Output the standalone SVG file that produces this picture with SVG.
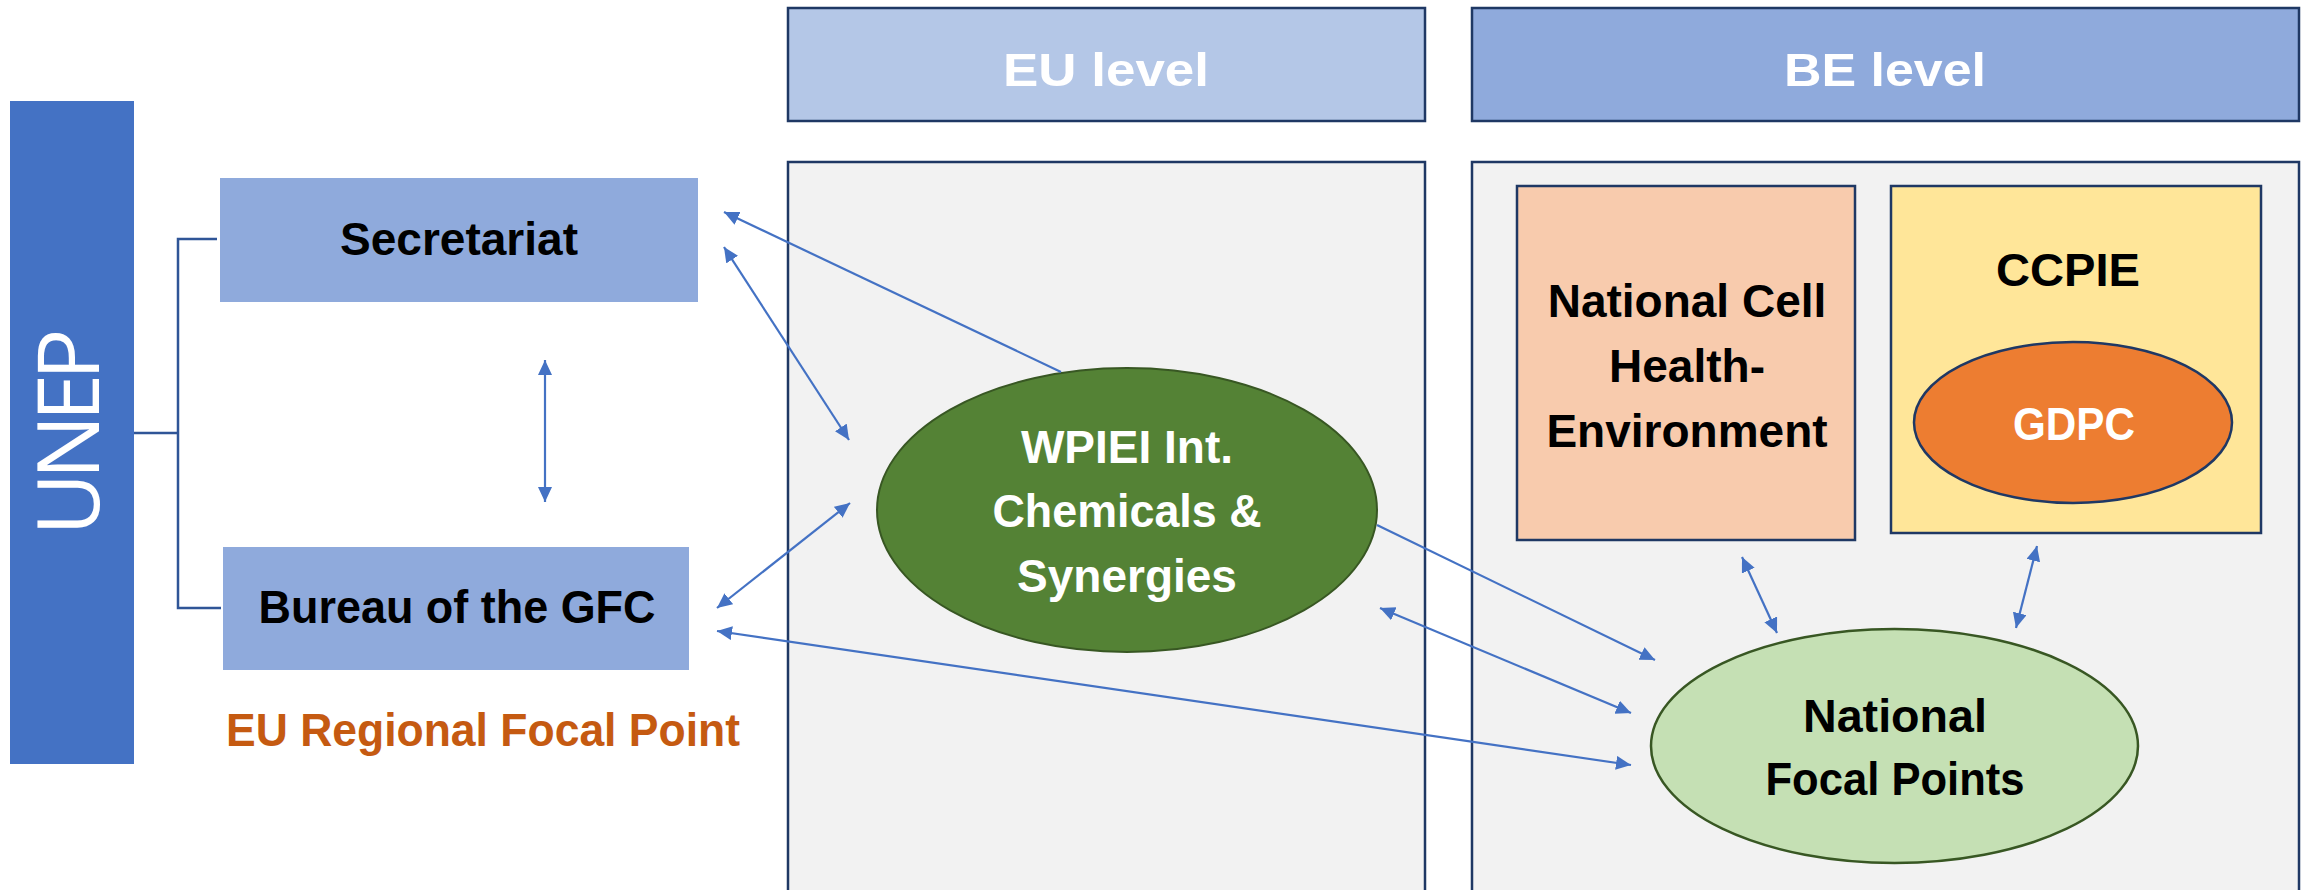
<svg xmlns="http://www.w3.org/2000/svg" width="2310" height="890" viewBox="0 0 2310 890">
<style>
.lbl{font-family:"Liberation Sans",Arial,sans-serif;font-weight:bold;font-size:46px;text-anchor:middle;fill:#000}
.wht{fill:#fff}
.hdr{stroke:#1F3864;stroke-width:2.5}
.conn{stroke:#4472C4;stroke-width:2.2;fill:none}
</style>
<defs>
<marker id="ah" markerUnits="userSpaceOnUse" markerWidth="16" markerHeight="15" refX="15" refY="7" orient="auto-start-reverse">
<path d="M0,0 L15,7 L0,14 z" fill="#4472C4"/>
</marker>
</defs>
<rect width="2310" height="890" fill="#fff"/>

<g id="unep">
<rect x="10" y="101" width="124" height="663" fill="#4472C4"/>
<text transform="translate(99,432) rotate(-90)" font-family="'Open Sans','Liberation Sans',sans-serif" font-weight="normal" font-size="86" fill="#fff" text-anchor="middle" textLength="207" lengthAdjust="spacing">UNEP</text>
</g>

<g id="eu-header">
<rect class="hdr" x="788" y="8" width="637" height="113" fill="#B4C7E7"/>
<text class="lbl wht" x="1106" y="86" font-size="60" textLength="206" lengthAdjust="spacingAndGlyphs">EU level</text>
</g>
<g id="be-header">
<rect class="hdr" x="1472" y="8" width="827" height="113" fill="#8FAADC"/>
<text class="lbl wht" x="1885" y="86" font-size="60" textLength="202" lengthAdjust="spacingAndGlyphs">BE level</text>
</g>
<g id="eu-panel">
<rect class="hdr" x="788" y="162" width="637" height="740" fill="#F2F2F2"/>
</g>
<g id="be-panel">
<rect class="hdr" x="1472" y="162" width="827" height="740" fill="#F2F2F2"/>
</g>

<g id="secretariat">
<rect x="220" y="178" width="478" height="124" fill="#8FAADC"/>
<text class="lbl" x="459" y="255" textLength="238" lengthAdjust="spacingAndGlyphs">Secretariat</text>
</g>
<g id="bureau">
<rect x="223" y="547" width="466" height="123" fill="#8FAADC"/>
<text class="lbl" x="457" y="623" textLength="397" lengthAdjust="spacingAndGlyphs">Bureau of the GFC</text>
</g>
<g id="eu-rfp">
<text class="lbl" x="483" y="746" style="fill:#C55A11" textLength="514" lengthAdjust="spacingAndGlyphs">EU Regional Focal Point</text>
</g>

<g id="wpiei">
<ellipse cx="1127" cy="510" rx="250" ry="142" fill="#548235" stroke="#385723" stroke-width="2"/>
<text class="lbl wht" x="1127" y="463">WPIEI Int.</text>
<text class="lbl wht" x="1127" y="527" textLength="269" lengthAdjust="spacingAndGlyphs">Chemicals &amp;</text>
<text class="lbl wht" x="1127" y="592">Synergies</text>
</g>

<g id="national-cell">
<rect x="1517" y="186" width="338" height="354" fill="#F8CBAD" stroke="#1F3864" stroke-width="2.5"/>
<text class="lbl" x="1687" y="317">National Cell</text>
<text class="lbl" x="1687" y="382">Health-</text>
<text class="lbl" x="1687" y="447">Environment</text>
</g>

<g id="ccpie">
<rect x="1891" y="186" width="370" height="347" fill="#FFE699" stroke="#1F3864" stroke-width="2.5"/>
<text class="lbl" x="2068" y="286" font-size="55" textLength="144" lengthAdjust="spacingAndGlyphs">CCPIE</text>
</g>
<g id="gdpc">
<ellipse cx="2073" cy="422.5" rx="159" ry="80.5" fill="#ED7D31" stroke="#1F3864" stroke-width="2.5"/>
<text class="lbl wht" x="2074" y="440" font-size="45" textLength="122" lengthAdjust="spacingAndGlyphs">GDPC</text>
</g>

<g id="nfp">
<ellipse cx="1894.5" cy="746" rx="243.5" ry="117" fill="#C5E0B4" stroke="#385723" stroke-width="2.5"/>
<text class="lbl" x="1895" y="732" textLength="184" lengthAdjust="spacingAndGlyphs">National</text>
<text class="lbl" x="1895" y="795" textLength="259" lengthAdjust="spacingAndGlyphs">Focal Points</text>
</g>

<g id="connectors">
<path d="M134,433 H178 M217,239 H178 V608 H221" stroke="#2F5597" stroke-width="2.5" fill="none"/>
<line class="conn" x1="545" y1="360" x2="545" y2="502" marker-start="url(#ah)" marker-end="url(#ah)"/>
<line class="conn" x1="1061" y1="372" x2="724" y2="212" marker-end="url(#ah)"/>
<line class="conn" x1="724" y1="247" x2="849" y2="440" marker-start="url(#ah)" marker-end="url(#ah)"/>
<line class="conn" x1="717" y1="608" x2="850" y2="503" marker-start="url(#ah)" marker-end="url(#ah)"/>
<line class="conn" x1="717" y1="631" x2="1631" y2="765" marker-start="url(#ah)" marker-end="url(#ah)"/>
<line class="conn" x1="1377" y1="525" x2="1655" y2="660" marker-end="url(#ah)"/>
<line class="conn" x1="1380" y1="608" x2="1631" y2="713" marker-start="url(#ah)" marker-end="url(#ah)"/>
<line class="conn" x1="1742" y1="557" x2="1777" y2="633" marker-start="url(#ah)" marker-end="url(#ah)"/>
<line class="conn" x1="2037" y1="546" x2="2016" y2="628" marker-start="url(#ah)" marker-end="url(#ah)"/>
</g>
</svg>
